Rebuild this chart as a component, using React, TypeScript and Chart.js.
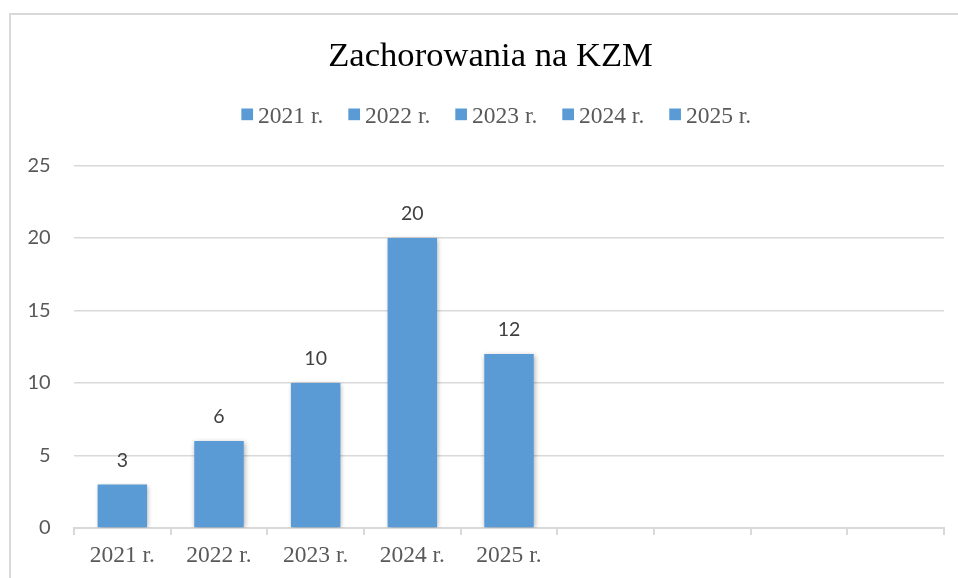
import { useEffect, useRef } from "react";
import { Chart, registerables } from "chart.js";

Chart.register(...registerables);

const titleText = "Zachorowania na KZM";
const categories = ["2021 r.", "2022 r.", "2023 r.", "2024 r.", "2025 r.", "", "", "", ""];
const values: (number | null)[] = [3, 6, 10, 20, 12, null, null, null, null];
const legendLabels = ["2021 r.", "2022 r.", "2023 r.", "2024 r.", "2025 r."];
const yTicks = [0, 5, 10, 15, 20, 25];

const BAR_COLOR = "#5b9bd5";
const SERIF = "'Liberation Serif', 'Times New Roman', serif";
const SANS = "Lato, 'Open Sans', sans-serif";

const titleShiftPlugin = {
  id: "titleShift",
  afterLayout(chart: any) {
    const tb = chart.titleBlock;
    if (tb) {
      tb.left = 37;
      tb.width = tb.right - tb.left;
    }
  },
};

const shadowPlugin = {
  id: "barShadow",
  beforeDatasetDraw(chart: any) {
    const ctx = chart.ctx;
    ctx.save();
    ctx.shadowColor = "rgba(0,0,0,0.32)";
    ctx.shadowBlur = 5;
    ctx.shadowOffsetX = 1;
    ctx.shadowOffsetY = 1;
  },
  afterDatasetDraw(chart: any) {
    chart.ctx.restore();
  },
};

const dataLabelPlugin = {
  id: "dataLabels",
  afterDatasetsDraw(chart: any) {
    const ctx = chart.ctx;
    const meta = chart.getDatasetMeta(0);
    ctx.save();
    ctx.font = `19.5px ${SANS}`;
    ctx.fillStyle = "#404040";
    ctx.textAlign = "center";
    ctx.textBaseline = "alphabetic";
    meta.data.forEach((bar: any, i: number) => {
      const v = values[i];
      if (v === null || v === undefined) return;
      ctx.fillText(String(v), bar.x, bar.y - 18);
    });
    ctx.restore();
  },
};

const legendPlugin = {
  id: "customLegend",
  afterDraw(chart: any) {
    const ctx = chart.ctx;
    ctx.save();
    ctx.font = `23.5px ${SERIF}`;
    const box = 11.7;
    const gap = 5;
    const spacing = 25;
    const widths = legendLabels.map((t) => ctx.measureText(t).width);
    const total =
      widths.reduce((a, w) => a + box + gap + w, 0) + spacing * (legendLabels.length - 1);
    let x = 496.3 - total / 2;
    ctx.textBaseline = "alphabetic";
    ctx.textAlign = "left";
    legendLabels.forEach((t, i) => {
      ctx.fillStyle = BAR_COLOR;
      ctx.fillRect(x, 108.5, box, box);
      ctx.fillStyle = "#595959";
      ctx.fillText(t, x + box + gap, 122.6);
      x += box + gap + widths[i] + spacing;
    });
    ctx.restore();
  },
};

export default function App() {
  const ref = useRef<HTMLCanvasElement | null>(null);

  useEffect(() => {
    if (!ref.current) return;
    const chart = new Chart(ref.current, {
      type: "bar",
      data: {
        labels: categories,
        datasets: [
          {
            label: "Zachorowania",
            data: values,
            backgroundColor: BAR_COLOR,
            borderWidth: 0,
            barPercentage: 0.512,
            categoryPercentage: 1,
          },
        ],
      },
      plugins: [titleShiftPlugin, shadowPlugin, dataLabelPlugin, legendPlugin],
      options: {
        animation: false,
        responsive: false,
        maintainAspectRatio: false,
        devicePixelRatio: 1,
        layout: { padding: { top: 0, right: 74, bottom: 0, left: 0 } },
        plugins: {
          legend: { display: false },
          tooltip: { enabled: false },
          title: {
            display: true,
            text: titleText,
            color: "#000000",
            font: { family: SERIF, size: 34.6, weight: "normal", lineHeight: 1.2 },
            padding: { top: 36.2, bottom: 87.8 },
          },
        },
        scales: {
          x: {
            offset: true,
            grid: {
              display: true,
              offset: true,
              drawOnChartArea: false,
              drawTicks: true,
              tickLength: 7,
              color: "#d9d9d9",
              lineWidth: 2,
            },
            border: { display: true, color: "#d9d9d9", width: 2 },
            ticks: {
              autoSkip: false,
              maxRotation: 0,
              minRotation: 0,
              padding: 6.4,
              color: "#595959",
              font: { family: SERIF, size: 23.5, lineHeight: 1.2 },
            },
            afterFit: (scale: any) => {
              scale.height = 50;
            },
          },
          y: {
            min: yTicks[0],
            max: yTicks[yTicks.length - 1],
            grid: {
              color: "#d9d9d9",
              lineWidth: 1.5,
              drawTicks: false,
            },
            border: { display: false },
            ticks: {
              stepSize: yTicks[1] - yTicks[0],
              padding: 23.3,
              color: "#595959",
              font: { family: SANS, size: 20 },
            },
            afterFit: (scale: any) => {
              scale.width = 74;
            },
          },
        },
      },
    });
    return () => chart.destroy();
  }, []);

  return (
    <div
      style={{
        position: "fixed",
        left: 0,
        top: 0,
        width: 958,
        height: 578,
        overflow: "hidden",
        background: "#ffffff",
      }}
    >
      <div
        style={{
          position: "absolute",
          left: 9,
          top: 13,
          width: 1000,
          height: 700,
          border: "2px solid #d9d9d9",
          boxSizing: "border-box",
        }}
      />
      <canvas
        ref={ref}
        width={1018}
        height={578}
        style={{ position: "absolute", left: 0, top: 0, width: 1018, height: 578 }}
      />
    </div>
  );
}
